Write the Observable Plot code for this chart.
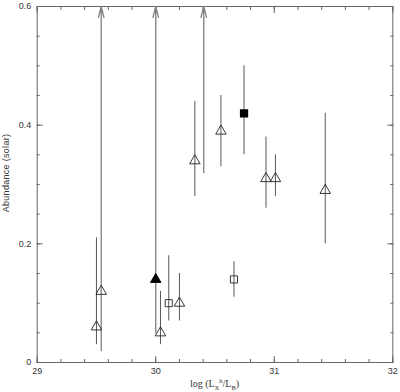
<!DOCTYPE html>
<html>
<head>
<meta charset="utf-8">
<script src="https://cdn.jsdelivr.net/npm/d3@7"></script>
<script src="https://cdn.jsdelivr.net/npm/@observablehq/plot@0.6"></script>
<style>
html,body{margin:0;padding:0;background:#fff;}
</style>
</head>
<body>
<div id="chart"></div>
<script>
// Hollow triangles
const triX  = [29.50, 29.54, 30.04, 30.20, 30.33, 30.55, 30.93, 31.01, 31.43];
const triY  = [0.06, 0.12, 0.05, 0.10, 0.34, 0.39, 0.31, 0.31, 0.29];
const triLo = [0.03, 0.02, 0.03, 0.07, 0.28, 0.33, 0.26, 0.28, 0.20];
const triHi = [0.21, null, 0.12, 0.15, 0.44, 0.45, 0.38, 0.35, 0.42];
// Hollow squares
const sqX  = [30.11, 30.66];
const sqY  = [0.10, 0.14];
const sqLo = [0.07, 0.11];
const sqHi = [0.18, 0.17];
// Filled triangle
const ftX = [30.00], ftY = [0.14], ftLo = [0.05], ftHi = [null];
// Filled square
const fsX = [30.745], fsY = [0.42], fsLo = [0.35], fsHi = [0.50];
// Upper-limit arrows
const arrX  = [29.54, 30.00, 30.405];
const arrLo = [0.02, 0.05, 0.32];
const arrHi = [0.6, 0.6, 0.6];
// Ticks
const xMajor = [29, 30, 31, 32];
const xMinor = d3.range(29, 32.001, 0.2).map(v => +v.toFixed(1));
const yMajor = [0, 0.2, 0.4, 0.6];
const yMinor = d3.range(0, 0.6001, 0.05).map(v => +v.toFixed(2));

const mk = (xs, ys, lo, hi) => xs.map((x, i) => ({x, y: ys[i], lo: lo[i], hi: hi[i]}));
const tri = mk(triX, triY, triLo, triHi);
const sq = mk(sqX, sqY, sqLo, sqHi);
const ft = mk(ftX, ftY, ftLo, ftHi);
const fs = mk(fsX, fsY, fsLo, fsHi);
const bars = [...tri, ...sq, ...ft, ...fs].filter(d => d.hi != null);
const arrows = arrX.map((x, i) => ({x, lo: arrLo[i], hi: arrHi[i]}));

const tickColor = "#666";
const fmtY = d => d === 0 ? "0" : d3.format(".1f")(d);
const tickOnly = {fill: "none", label: null, stroke: tickColor};

const plot = Plot.plot({
  width: 400,
  height: 392,
  marginLeft: 36.7,
  marginRight: 7.7,
  marginTop: 6,
  marginBottom: 30,
  style: {fontFamily: "'Liberation Sans', Arial, sans-serif", fontSize: "9px", color: "#333", background: "#fff"},
  x: {domain: [29, 32]},
  y: {domain: [0, 0.6]},
  marks: [
    Plot.frame({stroke: tickColor}),
    // minor ticks (inward)
    Plot.axisX(xMinor, {anchor: "bottom", tickSize: -3, ...tickOnly}),
    Plot.axisX(xMinor, {anchor: "top", tickSize: -3, ...tickOnly}),
    Plot.axisY(yMinor, {anchor: "left", tickSize: -3, ...tickOnly}),
    Plot.axisY(yMinor, {anchor: "right", tickSize: -3, ...tickOnly}),
    // major ticks (inward)
    Plot.axisX(xMajor, {anchor: "bottom", tickSize: -6, ...tickOnly}),
    Plot.axisX(xMajor, {anchor: "top", tickSize: -6, ...tickOnly}),
    Plot.axisY(yMajor, {anchor: "left", tickSize: -6, ...tickOnly}),
    Plot.axisY(yMajor, {anchor: "right", tickSize: -6, ...tickOnly}),
    // labels
    Plot.axisX(xMajor, {anchor: "bottom", tickSize: 0, tickPadding: 5, label: null, stroke: "none", tickFormat: d => String(d)}),
    Plot.axisY(yMajor, {anchor: "left", tickSize: 0, tickPadding: 6, label: null, stroke: "none", tickFormat: fmtY}),
    // upper-limit arrows
    Plot.arrow(arrows, {x1: "x", x2: "x", y1: "lo", y2: "hi", stroke: "#808080", strokeWidth: 1.3, headLength: 13, headAngle: 28, insetEnd: 0}),
    // error bars
    Plot.ruleX(bars, {x: "x", y1: "lo", y2: "hi", stroke: "#444", strokeWidth: 0.9}),
    // symbols
    Plot.dot(tri, {x: "x", y: "y", symbol: "triangle", r: 3.9, stroke: "#222", strokeWidth: 0.9, fill: "none"}),
    Plot.dot(sq, {x: "x", y: "y", symbol: "square", r: 4.0, stroke: "#222", strokeWidth: 0.9, fill: "none"}),
    Plot.dot(ft, {x: "x", y: "y", symbol: "triangle", r: 3.9, stroke: "#000", strokeWidth: 0.9, fill: "#000"}),
    Plot.dot(fs, {x: "x", y: "y", symbol: "square", r: 3.8, stroke: "#000", fill: "#000"})
  ]
});
document.getElementById("chart").appendChild(plot);

const svg = d3.select(plot);
// y-axis label
svg.append("text")
  .attr("transform", "translate(7,173) rotate(-90)")
  .attr("text-anchor", "middle")
  .attr("dominant-baseline", "middle")
  .attr("font-family", "'Liberation Sans', Arial, sans-serif")
  .attr("font-size", 9)
  .attr("letter-spacing", 0.3)
  .attr("fill", "#333")
  .text("Abundance (solar)");
// x-axis label with sub/superscripts
const t = svg.append("text")
  .attr("x", 214.5).attr("y", 387)
  .attr("text-anchor", "middle")
  .attr("font-family", "'Liberation Serif', 'DejaVu Serif', serif")
  .attr("font-size", 10)
  .attr("fill", "#333");
t.append("tspan").text("log (L");
t.append("tspan").attr("font-size", 6.5).attr("dy", 2.5).text("X");
t.append("tspan").attr("font-size", 6.5).attr("dy", -6.5).text("h");
t.append("tspan").attr("dy", 4).text("/L");
t.append("tspan").attr("font-size", 6.5).attr("dy", 2.5).text("B");
t.append("tspan").attr("dy", -2.5).text(")");
</script>
</body>
</html>
